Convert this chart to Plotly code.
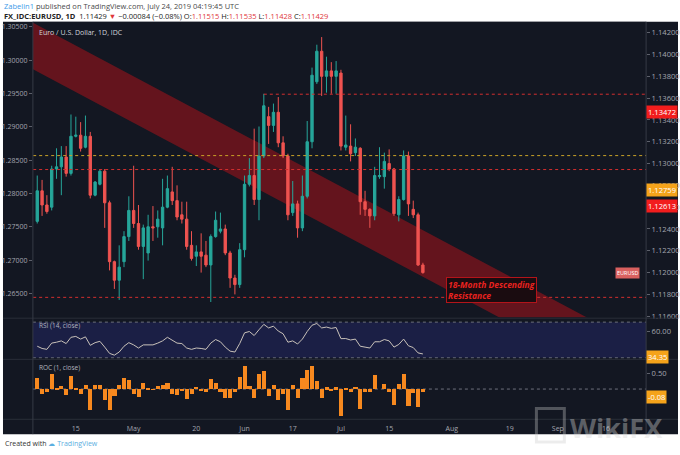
import numpy as np
import pandas as pd
import plotly.graph_objects as go

# ---------------- data ----------------
dates = pd.bdate_range("2019-04-03", "2019-07-24").strftime("%Y-%m-%d").tolist()

opens = [1.1247, 1.1275, 1.1262, 1.1260, 1.1295, 1.1297, 1.1306, 1.1291, 1.1325, 1.1326,
         1.1315, 1.1325, 1.1271, 1.1281, 1.1293, 1.1264, 1.1210, 1.1193, 1.1210, 1.1233,
         1.1257, 1.1245, 1.1224, 1.1218, 1.1242, 1.1242, 1.1241, 1.1260, 1.1274, 1.1266,
         1.1253, 1.1249, 1.1225, 1.1215, 1.1219, 1.1216, 1.1207, 1.1233, 1.1238, 1.1240,
         1.1218, 1.1195, 1.1189, 1.1221, 1.1281, 1.1289, 1.1267, 1.1307, 1.1343, 1.1335,
         1.1347, 1.1319, 1.1307, 1.1255, 1.1263, 1.1241, 1.1270, 1.1320, 1.1375, 1.1403,
         1.1380, 1.1385, 1.1380, 1.1383, 1.1315, 1.1316, 1.1310, 1.1314, 1.1265, 1.1258,
         1.1252, 1.1288, 1.1288, 1.1300, 1.1295, 1.1253, 1.1267, 1.1307, 1.1258, 1.1253,
         1.1207]
highs = [1.1289, 1.1285, 1.1271, 1.1298, 1.1314, 1.1316, 1.1316, 1.1345, 1.1343, 1.1338,
         1.1344, 1.1329, 1.1284, 1.1295, 1.1295, 1.1266, 1.1211, 1.1225, 1.1238, 1.1270,
         1.1298, 1.1262, 1.1244, 1.1253, 1.1261, 1.1257, 1.1286, 1.1289, 1.1297, 1.1280,
         1.1265, 1.1265, 1.1238, 1.1225, 1.1236, 1.1229, 1.1235, 1.1256, 1.1255, 1.1244,
         1.1220, 1.1198, 1.1227, 1.1289, 1.1305, 1.1332, 1.1334, 1.1364, 1.1352, 1.1355,
         1.1361, 1.1325, 1.1309, 1.1284, 1.1266, 1.1289, 1.1339, 1.1388, 1.1409, 1.1416,
         1.1398, 1.1393, 1.1394, 1.1386, 1.1344, 1.1336, 1.1323, 1.1315, 1.1275, 1.1259,
         1.1297, 1.1315, 1.1310, 1.1313, 1.1296, 1.1270, 1.1312, 1.1311, 1.1266, 1.1255,
         1.1209]
lows = [1.1245, 1.1252, 1.1254, 1.1257, 1.1286, 1.1271, 1.1288, 1.1289, 1.1324, 1.1311,
        1.1314, 1.1268, 1.1270, 1.1280, 1.1241, 1.1202, 1.1185, 1.1175, 1.1205, 1.1229,
        1.1241, 1.1221, 1.1194, 1.1211, 1.1229, 1.1232, 1.1225, 1.1259, 1.1262, 1.1248,
        1.1245, 1.1221, 1.1211, 1.1206, 1.1200, 1.1205, 1.1173, 1.1232, 1.1236, 1.1216,
        1.1186, 1.1180, 1.1186, 1.1214, 1.1279, 1.1262, 1.1248, 1.1305, 1.1318, 1.1329,
        1.1315, 1.1305, 1.1248, 1.1252, 1.1232, 1.1238, 1.1268, 1.1314, 1.1373, 1.1362,
        1.1365, 1.1364, 1.1364, 1.1312, 1.1312, 1.1302, 1.1307, 1.1253, 1.1252, 1.1241,
        1.1248, 1.1286, 1.1277, 1.1293, 1.1252, 1.1247, 1.1266, 1.1252, 1.1250, 1.1206,
        1.1199]
closes = [1.1275, 1.1262, 1.1256, 1.1295, 1.1297, 1.1306, 1.1291, 1.1325, 1.1326, 1.1314,
          1.1325, 1.1271, 1.1283, 1.1293, 1.1264, 1.1210, 1.1193, 1.1205, 1.1233, 1.1257,
          1.1245, 1.1224, 1.1241, 1.1242, 1.1241, 1.1249, 1.1260, 1.1277, 1.1266, 1.1251,
          1.1249, 1.1224, 1.1213, 1.1219, 1.1215, 1.1207, 1.1233, 1.1248, 1.1240, 1.1218,
          1.1195, 1.1189, 1.1221, 1.1281, 1.1289, 1.1267, 1.1307, 1.1353, 1.1335, 1.1347,
          1.1319, 1.1307, 1.1253, 1.1263, 1.1241, 1.1270, 1.1320, 1.1381, 1.1403, 1.1380,
          1.1385, 1.1380, 1.1385, 1.1316, 1.1317, 1.1309, 1.1315, 1.1265, 1.1258, 1.1252,
          1.1289, 1.1289, 1.1302, 1.1295, 1.1254, 1.1267, 1.1307, 1.1263, 1.1253, 1.1207,
          1.1200]

rsi = [43.0, 40.5, 39.5, 46.5, 47.5, 49.0, 46.0, 53.0, 54.0, 51.0,
       53.5, 44.0, 47.0, 48.5, 42.0, 35.0, 33.0, 36.5, 43.0, 47.0,
       44.5, 41.0, 44.5, 44.8, 44.5, 46.5, 49.0, 53.0, 50.0, 46.5,
       46.0, 41.0, 39.5, 41.0, 40.5, 39.5, 46.5, 50.5, 48.0, 42.0,
       37.5, 36.5, 46.0, 58.0, 59.5, 55.0, 61.5, 67.5, 63.5, 65.5,
       60.0, 57.0, 47.5, 49.0, 45.5, 51.0, 59.5, 66.5, 68.5, 63.5,
       64.5, 63.0, 64.0, 51.5, 51.6, 50.0, 51.0, 43.0, 42.0, 41.0,
       48.0, 48.0, 50.5, 49.0, 42.0, 45.0, 51.0, 43.5, 41.5, 35.5,
       34.35]

roc = [0.37, -0.16, -0.08, 0.49, 0.03, 0.11, -0.19, 0.43, 0.01, -0.15,
       0.14, -0.68, 0.15, 0.13, -0.36, -0.68, -0.21, 0.15, 0.35, 0.30,
       -0.15, -0.26, 0.21, 0.01, -0.01, 0.10, 0.14, 0.21, -0.14, -0.19,
       -0.03, -0.31, -0.14, 0.08, -0.05, -0.10, 0.33, 0.19, -0.10, -0.28,
       -0.29, -0.08, 0.40, 0.75, 0.10, -0.28, 0.50, 0.58, -0.23, 0.15,
       -0.35, -0.15, -0.68, 0.13, -0.28, 0.36, 0.63, 0.76, 0.28, -0.29,
       0.06, -0.06, 0.06, -0.86, 0.01, -0.10, 0.08, -0.63, -0.09, -0.08,
       0.46, 0.00, 0.16, -0.09, -0.51, 0.16, 0.50, -0.55, -0.13, -0.58,
       -0.08]

tick_dates = ["2019-04-15", "2019-05-01", "2019-05-20", "2019-06-03", "2019-06-17", "2019-07-01",
              "2019-07-15", "2019-08-01", "2019-08-19", "2019-09-02", "2019-09-16"]
tick_text = ["15", "May", "20", "Jun", "17", "Jul", "15", "Aug", "19", "Sep", "16"]

right_ticks = [1.116, 1.118, 1.120, 1.122, 1.124, 1.126, 1.128, 1.130, 1.132, 1.134, 1.136, 1.138, 1.140, 1.142]
left_ticks = [1.265, 1.270, 1.275, 1.280, 1.285, 1.290, 1.295, 1.300, 1.305]

# horizontal levels
level_top = 1.13636
level_top_start = "2019-06-07"
level_gold = 1.13073
level_red = 1.12945
level_bottom = 1.11773

# descending channel anchors
channel_dates = ["2019-04-03", "2019-09-16"]
channel_upper = [1.14270, 1.11495]
channel_lower = [1.13843, 1.11067]

# price-scale labels
label_values = [1.13472, 1.12759, 1.12613]
label_colors = ["#f21d1d", "#f5a31a", "#f21d1d"]

# ---------------- helpers ----------------
ORIGIN = "2019-04-15"
def bidx(d):
    return int(np.busday_count(ORIGIN, d))

xs = [bidx(d) for d in dates]
W, H = 680, 455
def px(x): return x / W
def py(y): return 1 - y / H

BG = "#131722"
FONT = "Open Sans"
AXC = "#a3a6af"

fig = go.Figure()

fig.add_trace(go.Candlestick(
    x=xs, open=opens, high=highs, low=lows, close=closes,
    increasing=dict(line=dict(color="#26a69a", width=1), fillcolor="#26a69a"),
    decreasing=dict(line=dict(color="#ef5350", width=1), fillcolor="#ef5350"),
    xaxis="x", yaxis="y", showlegend=False, hoverinfo="skip"))
fig.add_trace(go.Scatter(x=[], y=[], xaxis="x", yaxis="y4", showlegend=False))
fig.add_trace(go.Scatter(x=xs, y=rsi, mode="lines", line=dict(color="#c9c2ba", width=1),
                         xaxis="x2", yaxis="y2", showlegend=False, hoverinfo="skip"))
fig.add_trace(go.Bar(x=xs, y=roc, marker=dict(color="#f7891f", line=dict(width=0)), width=0.85,
                     xaxis="x3", yaxis="y3", showlegend=False, hoverinfo="skip"))

xdom = [px(33), px(648)]
xr = [-8.9, 118.3]
common_x = dict(domain=xdom, range=xr, showgrid=False, zeroline=False, showline=False,
                showticklabels=False, ticks="", fixedrange=True)
tickfont = dict(family=FONT, size=7, color=AXC)
rtickfont = dict(family=FONT, size=7.6, color=AXC)
ycommon = dict(showgrid=False, zeroline=False, showline=False, ticks="outside", ticklen=3,
               tickcolor="#5d606b", fixedrange=True)

fig.update_layout(
    width=W, height=H, autosize=False,
    margin=dict(l=0, r=0, t=0, b=0),
    paper_bgcolor="white", plot_bgcolor=BG,
    bargap=0,
    xaxis=dict(**common_x, anchor="y", rangeslider=dict(visible=False)),
    xaxis2=dict(**common_x, anchor="y2", matches="x"),
    xaxis3=dict(domain=xdom, range=xr, showgrid=False, zeroline=False, showline=False,
                anchor="y3", matches="x", tickvals=[bidx(d) for d in tick_dates], ticktext=tick_text,
                tickfont=tickfont, ticks="", ticklabelstandoff=4, fixedrange=True),
    yaxis=dict(**ycommon, tickfont=rtickfont, domain=[py(320), py(22)], side="right", anchor="x",
               range=[1.11591, 1.143], tickvals=right_ticks, tickformat=".5f"),
    yaxis4=dict(**ycommon, tickfont=tickfont, overlaying="y", side="left", anchor="x",
                range=[1.26143, 1.30574], tickvals=left_ticks, tickformat=".5f"),
    yaxis2=dict(**ycommon, tickfont=rtickfont, domain=[py(362), py(321)], side="right", anchor="x2",
                range=[28.89, 74.44], tickvals=[60], tickformat=".2f"),
    yaxis3=dict(**ycommon, tickfont=rtickfont, domain=[py(423), py(363)], side="right", anchor="x3",
                range=[-0.984, 0.952], tickvals=[0.5], tickformat=".2f"),
)

shapes = []
# dark chart area
shapes.append(dict(type="rect", xref="paper", yref="paper", x0=px(3), x1=1, y0=py(438), y1=py(22),
                   fillcolor=BG, line=dict(width=0), layer="below"))
# channel
slope = (channel_upper[1] - channel_upper[0]) / (bidx(channel_dates[1]) - bidx(channel_dates[0]))
x_a, x_b = bidx(channel_dates[0]), bidx(channel_dates[1])
ext_l, ext_r = x_a - 30, x_b + 40
up_l = channel_upper[0] + slope * (ext_l - x_a)
up_r = channel_upper[0] + slope * (ext_r - x_a)
lo_l = channel_lower[0] + slope * (ext_l - x_a)
lo_r = channel_lower[0] + slope * (ext_r - x_a)
shapes.append(dict(type="path", xref="x", yref="y",
                   path=f"M {ext_l},{up_l} L {ext_r},{up_r} L {ext_r},{lo_r} L {ext_l},{lo_l} Z",
                   fillcolor="rgba(200,18,24,0.45)", line=dict(width=0), layer="below"))
# levels
def hline(y0, x0, color, dash="dot"):
    return dict(type="line", xref="x", yref="y", x0=x0, x1=200, y0=y0, y1=y0,
                line=dict(color=color, width=1, dash=dash), layer="above")
shapes.append(hline(level_top, bidx(level_top_start), "#d32f2f"))
shapes.append(hline(level_gold, -30, "#c9a227"))
shapes.append(hline(level_red, -30, "#d32f2f"))
shapes.append(hline(level_bottom, -30, "#d32f2f"))
# RSI band
shapes.append(dict(type="rect", xref="x2 domain", yref="y2", x0=0, x1=1, y0=30, y1=70,
                   fillcolor="#1b1f45", line=dict(width=0), layer="below"))
for v in (30, 70):
    shapes.append(dict(type="line", xref="x2 domain", yref="y2", x0=0, x1=1, y0=v, y1=v,
                       line=dict(color="#6d707c", width=1, dash="dot"), layer="below"))
shapes.append(dict(type="line", xref="x3 domain", yref="y3", x0=0, x1=1, y0=0, y1=0,
                   line=dict(color="#6d707c", width=1, dash="dot"), layer="below"))
# pane separators and scale borders
for yy in (321, 362.5, 423):
    shapes.append(dict(type="line", xref="paper", yref="paper", x0=px(3), x1=1, y0=py(yy), y1=py(yy),
                       line=dict(color="#2a2e39", width=1), layer="above"))
for xx in (33, 648):
    shapes.append(dict(type="line", xref="paper", yref="paper", x0=px(xx), x1=px(xx), y0=py(438), y1=py(22),
                       line=dict(color="#363a45", width=1), layer="above"))
# watermark logo square
shapes.append(dict(type="rect", xref="paper", yref="paper", x0=px(538), x1=px(566), y0=py(446), y1=py(412),
                   line=dict(color="rgba(200,200,200,0.35)", width=3), fillcolor="rgba(0,0,0,0)", layer="above"))
fig.update_layout(shapes=shapes)

ann = []
def text(x, y, s, size=7, color="#333", anchor="left", yanchor="middle", **kw):
    ann.append(dict(xref="paper", yref="paper", x=px(x), y=py(y), text=s, showarrow=False,
                    xanchor=anchor, yanchor=yanchor, font=dict(family=FONT, size=size, color=color), **kw))

text(2, 6, '<span style="color:#3d9be9">Zabelin1</span> published on TradingView.com, July 24, 2019 04:19:45 UTC',
     size=7.5, color="#4a4a4a")
R = "#e0363a"
text(2, 16, f'<b>FX_IDC:EURUSD, 1D</b>  1.11429 <span style="color:{R}">▼</span> −0.00084 (−0.08%) '
            f'O:<span style="color:{R}">1.11515</span> H:<span style="color:{R}">1.11535</span> '
            f'L:<span style="color:{R}">1.11428</span> C:<span style="color:{R}">1.11429</span>',
     size=7.5, color="#222")
text(37, 33, "Euro / U.S. Dollar, 1D, IDC", size=7, color="#d1d4dc")
text(37, 328, "RSI (14, close)", size=6.5, color="#b2b5be")
text(37, 371, "ROC (1, close)", size=6.5, color="#b2b5be")
text(3, 447, 'Created with <span style="color:#5aaee0">☁ TradingView</span>', size=7, color="#333")
text(570, 431, "<b>WikiFX</b>", size=27, color="rgba(215,215,215,0.38)")

# price labels on right scale
for v, c in zip(label_values, label_colors):
    ann.append(dict(xref="paper", yref="y", x=px(648), y=v, text=f"{v:.5f}", showarrow=False,
                    xanchor="left", yanchor="middle", bgcolor=c, borderpad=1,
                    font=dict(family=FONT, size=7.6, color="white")))
ann.append(dict(xref="paper", yref="y", x=px(642), y=1.1200, text="EURUSD", showarrow=False,
                xanchor="right", yanchor="middle", bgcolor="#d9605f", borderpad=1,
                font=dict(family=FONT, size=5.5, color="white")))
ann.append(dict(xref="paper", yref="y2", x=px(648), y=rsi[-1], text=f"{rsi[-1]:.2f}", showarrow=False,
                xanchor="left", yanchor="middle", bgcolor="#f5a31a", borderpad=1, yshift=-3,
                font=dict(family=FONT, size=7.6, color="white")))
ann.append(dict(xref="paper", yref="y3", x=px(648), y=roc[-1], text=f"{roc[-1]:.2f}", showarrow=False,
                xanchor="left", yanchor="middle", bgcolor="#f5a31a", borderpad=1, yshift=-5,
                font=dict(family=FONT, size=7.6, color="white")))
# channel note
ann.append(dict(xref="paper", yref="paper", x=px(447), y=py(279), xanchor="left", yanchor="top",
                text="<b><i>18-Month Descending<br>Resistance</i></b>", showarrow=False, align="left",
                bgcolor="#1a0c10", bordercolor="#b3141a", borderwidth=1, borderpad=1,
                font=dict(family=FONT, size=8.5, color="#e8221f")))
fig.update_layout(annotations=ann)

fig.write_html("out.html", config={"displayModeBar": False},
               post_script="document.body.style.margin='0';document.body.style.overflow='hidden';")
